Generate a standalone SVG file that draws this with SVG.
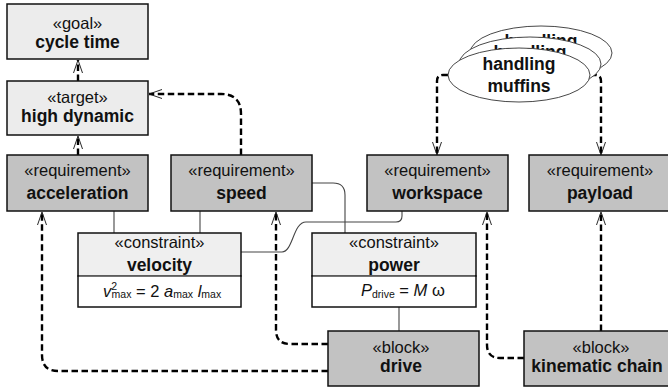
<svg xmlns="http://www.w3.org/2000/svg" width="668" height="387" viewBox="0 0 668 387">
  <defs>
    <marker id="open-arrow" markerUnits="userSpaceOnUse" markerWidth="16" markerHeight="14" viewBox="-14 -7 16 14" refX="0" refY="0" orient="auto">
      <path d="M-13,-4.5 L0,0 L-13,4.5" fill="none" stroke="#111" stroke-width="0.9"/>
    </marker>
  </defs>
  <style>
    .box { stroke: #111; stroke-width: 1.5; }
    .light { fill: #ececec; }
    .dark { fill: #c2c2c2; }
    .cmp-top { fill: #efefef; }
    .cmp-bot { fill: #ffffff; }
    .divider { stroke: #9a9a9a; stroke-width: 1.2; }
    .ster { font-family: "Liberation Sans", Arial, sans-serif; font-size: 16.5px; fill: #111; text-anchor: middle; }
    .name { font-family: "Liberation Sans", Arial, sans-serif; font-size: 17.5px; font-weight: bold; fill: #111; text-anchor: middle; }
    .formula { font-family: "Liberation Sans", Arial, sans-serif; font-size: 16.5px; fill: #111; }
    .sub { font-size: 10.5px; }
    .uc { fill: #ffffff; stroke: #333; stroke-width: 0.9; }
    .dep { fill: none; stroke: #000; stroke-width: 2.4; stroke-dasharray: 6.5 3.5; marker-end: url(#open-arrow); }
    .link { fill: none; stroke: #444; stroke-width: 1.1; }
  </style>

  <!-- connectors -->
  <g id="connectors">
    <path class="link" d="M114,211 V233"/>
    <path class="link" d="M200,211 V233"/>
    <path class="link" d="M312,183 H333 Q345,183 345,195 V233"/>
    <path class="link" d="M241,252 H282 C293,252 293,222 306,222 H396 Q402,222 402,216 V211"/>
    <path class="link" d="M399,307 V331"/>

    <path class="dep" d="M78,81 V60"/>
    <path class="dep" d="M78,155 V136"/>
    <path class="dep" d="M241,155 V114 Q241,94 221,94 H149"/>
    <path class="dep" d="M448,75 H443 Q437,75 437,81 V155"/>
    <path class="dep" d="M590,75 H595 Q601,75 601,81 V155"/>
    <path class="dep" d="M328,371 H58 Q42,371 42,355 V212"/>
    <path class="dep" d="M328,344 H290 Q276,344 276,330 V212"/>
    <path class="dep" d="M524,358 H500 Q487,358 487,345 V212"/>
    <path class="dep" d="M601,331 V212"/>
  </g>

  <!-- use case stack -->
  <g id="handling-muffins">
    <ellipse class="uc" cx="541" cy="53" rx="71" ry="27"/>
    <text class="name" x="541" y="47">handling</text>
    <text class="name" x="541" y="69">muffins</text>
    <ellipse class="uc" cx="530" cy="64" rx="71" ry="27"/>
    <text class="name" x="530" y="58">handling</text>
    <text class="name" x="530" y="80">muffins</text>
    <ellipse class="uc" cx="519" cy="75" rx="71" ry="27"/>
    <text class="name" x="519" y="70">handling</text>
    <text class="name" x="519" y="92">muffins</text>
  </g>

  <g id="cycle-time">
    <rect class="box light" x="7" y="4" width="141" height="55"/>
    <text class="ster" x="77.5" y="29">«goal»</text>
    <text class="name" x="77.5" y="48">cycle time</text>
  </g>

  <g id="high-dynamic">
    <rect class="box light" x="7" y="81" width="141" height="54"/>
    <text class="ster" x="77.5" y="103">«target»</text>
    <text class="name" x="77.5" y="122">high dynamic</text>
  </g>

  <g id="acceleration">
    <rect class="box dark" x="7" y="155" width="141" height="56"/>
    <text class="ster" x="77.5" y="176">«requirement»</text>
    <text class="name" x="77.5" y="199">acceleration</text>
  </g>

  <g id="speed">
    <rect class="box dark" x="171" y="155" width="141" height="56"/>
    <text class="ster" x="241.5" y="176">«requirement»</text>
    <text class="name" x="241.5" y="199">speed</text>
  </g>

  <g id="workspace">
    <rect class="box dark" x="367" y="155" width="141" height="56"/>
    <text class="ster" x="437.5" y="176">«requirement»</text>
    <text class="name" x="437.5" y="199">workspace</text>
  </g>

  <g id="payload">
    <rect class="box dark" x="529" y="155" width="150" height="56"/>
    <text class="ster" x="600" y="176">«requirement»</text>
    <text class="name" x="600" y="199">payload</text>
  </g>

  <g id="velocity">
    <rect class="box cmp-top" x="78" y="233" width="163" height="43"/>
    <rect class="box cmp-bot" x="78" y="276" width="163" height="31"/>
    <line class="divider" x1="79" y1="276" x2="240" y2="276"/>
    <text class="ster" x="159.5" y="248">«constraint»</text>
    <text class="name" x="159.5" y="271">velocity</text>
    <text class="formula" x="103" y="297"><tspan font-style="italic">v</tspan><tspan class="sub" dy="-7">2</tspan><tspan class="sub" dx="-5.5" dy="8">max</tspan><tspan dy="-1"> = 2 </tspan><tspan font-style="italic">a</tspan><tspan class="sub" dy="1">max</tspan><tspan dy="-1"> </tspan><tspan font-style="italic">l</tspan><tspan class="sub" dy="1">max</tspan></text>
  </g>

  <g id="power">
    <rect class="box cmp-top" x="312" y="233" width="164" height="43"/>
    <rect class="box cmp-bot" x="312" y="276" width="164" height="31"/>
    <line class="divider" x1="313" y1="276" x2="475" y2="276"/>
    <text class="ster" x="394" y="248">«constraint»</text>
    <text class="name" x="394" y="271">power</text>
    <text class="formula" x="361" y="296"><tspan font-style="italic">P</tspan><tspan class="sub" dy="2">drive</tspan><tspan dy="-2"> = </tspan><tspan font-style="italic">M</tspan><tspan> ω</tspan></text>
  </g>

  <g id="drive">
    <rect class="box dark" x="328" y="331" width="151" height="55"/>
    <text class="ster" x="401" y="353">«block»</text>
    <text class="name" x="401" y="372">drive</text>
  </g>

  <g id="kinematic-chain">
    <rect class="box dark" x="524" y="331" width="160" height="55"/>
    <text class="ster" x="601" y="353">«block»</text>
    <text class="name" x="597" y="372">kinematic chain</text>
  </g>
</svg>
